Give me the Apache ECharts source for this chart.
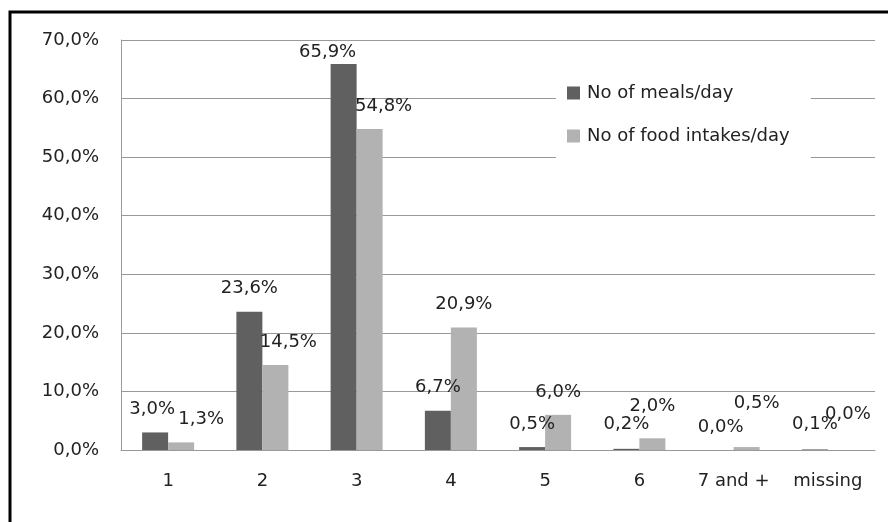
<!DOCTYPE html>
<html>
<head>
<meta charset="utf-8">
<script src="https://cdn.jsdelivr.net/npm/echarts@6/dist/echarts.min.js"></script>
<style>
html,body{margin:0;padding:0;background:#fff;}
#chart{width:888px;height:522px;}
</style>
</head>
<body>
<div id="chart"></div>
<script>
var categories = ['1', '2', '3', '4', '5', '6', '7 and +', 'missing'];
var mealsPerDay = [3.0, 23.6, 65.9, 6.7, 0.5, 0.2, 0.0, 0.1];
var intakesPerDay = [1.3, 14.5, 54.8, 20.9, 6.0, 2.0, 0.5, 0.0];
var seriesNames = ['No of meals/day', 'No of food intakes/day'];
var yTicks = [0, 10, 20, 30, 40, 50, 60, 70];

// label nudges (px) reproducing the reference's label placement
var mealsLabelNudge = [[-3, 0], [0, 0], [-16, 11], [0, 0], [0, 0], [0, -2], [0, 0], [0, -2]];
var intakesLabelNudge = [[20, 0], [13, 0], [14, 0], [0, 0], [0, 0], [0, -9], [10, -21], [7, -13]];

function pct(v) { return Number(v).toFixed(1).replace('.', ',') + '%'; }

var FONT = 'DejaVu Sans';

function withNudges(values, nudges) {
  return values.map(function (v, i) {
    return {value: v, label: {offset: nudges[i]}};
  });
}

var chart = echarts.init(document.getElementById('chart'), null, {renderer: 'canvas'});
chart.setOption({
  animation: false,
  backgroundColor: '#fff',
  textStyle: {fontFamily: FONT},
  graphic: [{
    type: 'rect',
    shape: {x: 10, y: 12, width: 900, height: 600},
    style: {fill: 'none', stroke: '#000', lineWidth: 3},
    z: 100
  }],
  grid: {left: 121, right: 13, top: 40, bottom: 72, containLabel: false},
  legend: {
    orient: 'vertical',
    left: 556, top: 74,
    padding: [10, 21, 20, 11],
    backgroundColor: '#fff',
    itemWidth: 13, itemHeight: 13, itemGap: 25,
    icon: 'rect',
    textStyle: {fontFamily: FONT, fontSize: 18, color: '#222', padding: [0, 0, 0, 2]},
    data: seriesNames
  },
  xAxis: {
    type: 'category',
    data: categories,
    axisLine: {lineStyle: {color: '#999', width: 1}},
    axisTick: {show: false},
    axisLabel: {fontFamily: FONT, fontSize: 18, color: '#222', margin: 22}
  },
  yAxis: {
    type: 'value',
    min: yTicks[0], max: yTicks[yTicks.length - 1], interval: 10,
    axisLine: {show: true, lineStyle: {color: '#999', width: 1}},
    axisTick: {show: false},
    splitLine: {lineStyle: {color: '#999', width: 1}},
    axisLabel: {fontFamily: FONT, fontSize: 18, color: '#222', margin: 22, formatter: pct}
  },
  series: [{
    name: seriesNames[0],
    type: 'bar',
    data: withNudges(mealsPerDay, mealsLabelNudge),
    barWidth: 26,
    barGap: '0%',
    itemStyle: {color: '#606060'},
    label: {show: true, position: 'top', distance: 14, fontFamily: FONT, fontSize: 18, color: '#222', formatter: function (p) { return pct(p.value); }}
  }, {
    name: seriesNames[1],
    type: 'bar',
    data: withNudges(intakesPerDay, intakesLabelNudge),
    barWidth: 26,
    barGap: '0%',
    itemStyle: {color: '#b2b2b2'},
    label: {show: true, position: 'top', distance: 14, fontFamily: FONT, fontSize: 18, color: '#222', formatter: function (p) { return pct(p.value); }}
  }]
});
</script>
</body>
</html>
